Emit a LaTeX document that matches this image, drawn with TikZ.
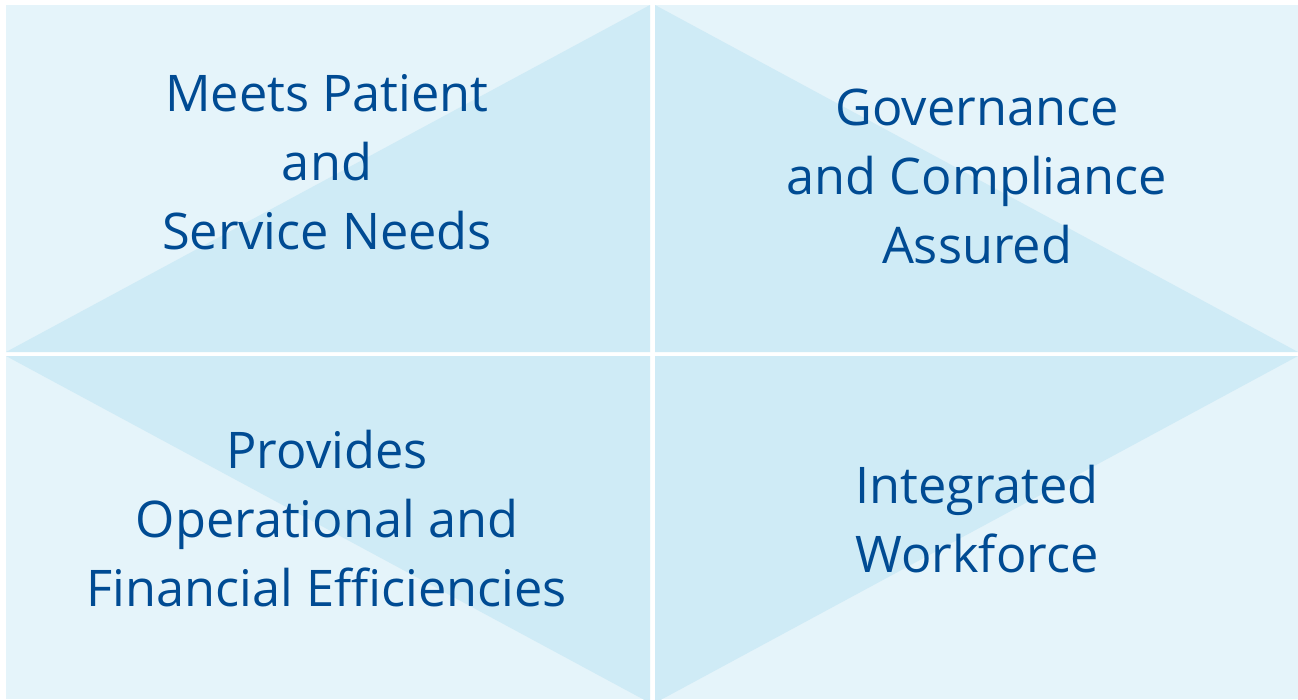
\documentclass[tikz,border=0pt]{standalone}
\usepackage{fontspec}
\setmainfont{Open Sans}
\definecolor{bglight}{RGB}{229,244,250}
\definecolor{bgdark}{RGB}{207,235,246}
\definecolor{txtblue}{RGB}{0,75,147}
\begin{document}
\begin{tikzpicture}[x=1pt,y=-1pt,
  quad/.style={fill=bglight},
  tri/.style={fill=bgdark},
  label/.style={text=txtblue,align=center,font=\fontsize{50.5}{69}\selectfont,inner sep=0pt}]
\useasboundingbox (0,0) rectangle (1298,699);
\fill[white] (0,0) rectangle (1298,699);
% quadrants
\fill[quad] (6,5) rectangle (650,352);
\fill[quad] (655,5) rectangle (1298,352);
\fill[quad] (6,356) rectangle (650,699);
\fill[quad] (655,356) rectangle (1298,699);
% diamond parts
\fill[tri] (6,352) -- (650,5) -- (650,352) -- cycle;
\fill[tri] (655,5) -- (1298,352) -- (655,352) -- cycle;
\fill[tri] (6,356) -- (650,703) -- (650,356) -- cycle;
\fill[tri] (655,703) -- (1298,356) -- (655,356) -- cycle;
% texts
\node[label] (tl) at (327,162) {Meets Patient\\and\\Service Needs};
\node[label] (tr) at (977,176) {Governance\\and Compliance\\Assured};
\node[label] (bl) at (327,519) {Provides\\Operational and\\Financial Efficiencies};
\node[label] (br) at (977,519) {Integrated\\Workforce};
\end{tikzpicture}
\end{document}
